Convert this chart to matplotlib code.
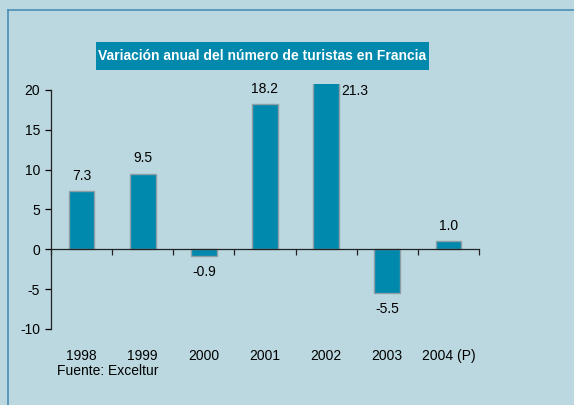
import matplotlib
matplotlib.use("Agg")
import matplotlib.pyplot as plt
from matplotlib.lines import Line2D
from matplotlib.patches import Rectangle
from matplotlib.transforms import blended_transform_factory

years = ["1998", "1999", "2000", "2001", "2002", "2003", "2004 (P)"]
variation = [7.3, 9.5, -0.9, 18.2, 21.3, -5.5, 1.0]
labels = ["7.3", "9.5", "-0.9", "18.2", "21.3", "-5.5", "1.0"]

bg = "#bbd8e0"
teal = "#0088ad"

plt.rcParams["font.family"] = ["Liberation Sans", "DejaVu Sans"]
plt.rcParams["axes.unicode_minus"] = False

W, H = 574, 405
fig = plt.figure(figsize=(W / 100, H / 100), dpi=100, facecolor=bg)

def fx(px):
    return px / W

def fy(py):
    return 1 - py / H

# outer frame (left and top lines only are visible)
fig.add_artist(Line2D([fx(7.5), fx(7.5)], [0, fy(9.5)], color="#4a8fb8", lw=1.2))
fig.add_artist(Line2D([fx(7.5), 1], [fy(9.5), fy(9.5)], color="#4a8fb8", lw=1.2))

ax = fig.add_axes([fx(51), fy(329), fx(479) - fx(51), fy(84) - fy(329)])
ax.set_facecolor(bg)
ax.set_xlim(-0.5, 6.5)
ax.set_ylim(-10, 20.75)

x = list(range(len(years)))
ax.bar(x, variation, width=0.42, color=teal, edgecolor="#8e9ea4", linewidth=1.0)

for s in ["top", "right"]:
    ax.spines[s].set_visible(False)
ax.spines["left"].set_bounds(-10, 20)
ax.spines["bottom"].set_position(("data", 0))
for s in ["left", "bottom"]:
    ax.spines[s].set_color("#222222")
    ax.spines[s].set_linewidth(0.9)

ax.set_yticks(range(-10, 21, 5))
ax.tick_params(axis="y", direction="out", length=4, width=0.9, labelsize=10, pad=4)
ax.set_xticks([i - 0.5 for i in range(len(years) + 1)])
ax.set_xticklabels([])
ax.tick_params(axis="x", direction="out", length=4, width=0.9, color="#222222")

# category labels below the plot area
tr = blended_transform_factory(ax.transData, fig.transFigure)
for i, yr in enumerate(years):
    ax.text(i, fy(356), yr, transform=tr, ha="center", va="center", fontsize=10)

for i, (v, lab) in enumerate(zip(variation, labels)):
    if i == 4:
        ax.annotate(lab, (i + 0.21, 20.75), xytext=(1.5, -5), textcoords="offset points",
                    ha="left", va="center", fontsize=10, annotation_clip=False)
    elif v >= 0:
        ax.annotate(lab, (i, v), xytext=(0, 11), textcoords="offset points",
                    ha="center", va="center", fontsize=10)
    else:
        ax.annotate(lab, (i, v), xytext=(0, -11.5), textcoords="offset points",
                    ha="center", va="center", fontsize=10)

fig.text(fx(57), fy(371), "Fuente: Exceltur", ha="left", va="center", fontsize=10)

# title box
fig.add_artist(Rectangle((fx(96), fy(70)), fx(429) - fx(96), fy(42) - fy(70),
                         transform=fig.transFigure, facecolor=teal, edgecolor="none"))
fig.text(fx(262.5), fy(56), "Variación anual del número de turistas en Francia",
         ha="center", va="center", fontsize=10, fontweight="bold", color="white")

fig.savefig("out.png", dpi=100, facecolor=bg)
